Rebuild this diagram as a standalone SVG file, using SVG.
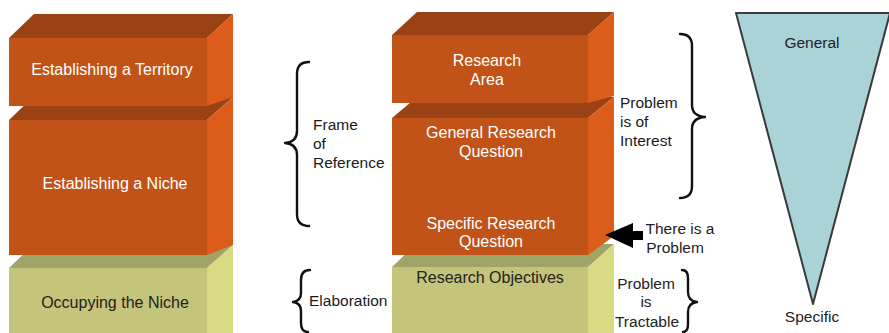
<svg xmlns="http://www.w3.org/2000/svg" width="889" height="333" viewBox="0 0 889 333">
<style>
.of{fill:#C25318}.ot{fill:#9A4214}.or{fill:#DC5C1A}
.gf{fill:#C4C47A}.gt{fill:#A0A468}.gr{fill:#D9DB83}
text{font-family:"Liberation Sans",Arial,sans-serif;font-size:15.5px}
.w{fill:#ffffff;text-anchor:middle;font-size:16px}
.d{fill:#222222;text-anchor:middle}
.b{font-size:16px}
.l{fill:#1a1a1a}
.br{fill:none;stroke:#111;stroke-width:2.4;stroke-linecap:round;stroke-linejoin:round}
</style>
<rect width="889" height="333" fill="#ffffff"/>
<g id="occupying-niche">
<polygon class="gt" points="9,268 33,245 233,245 207,268"/>
<polygon class="gr" points="207,268 233,245 233,333 207,333"/>
<rect class="gf" x="9" y="268" width="198" height="65"/>
<text class="d b" x="115" y="308">Occupying the Niche</text>
</g>
<g id="establishing-niche">
<polygon class="ot" points="9,120 33,97 233,97 207,120"/>
<polygon class="or" points="207,120 233,97 233,245 207,255"/>
<rect class="of" x="9" y="120" width="198" height="135"/>
<text class="w" x="115" y="189">Establishing a Niche</text>
</g>
<g id="establishing-territory">
<polygon class="ot" points="9,38 34,14 233,14 207,38"/>
<polygon class="or" points="207,38 233,14 233,97 207,106"/>
<rect class="of" x="9" y="38" width="198" height="68"/>
<text class="w" x="112" y="75">Establishing a Territory</text>
</g>
<g id="research-objectives">
<polygon class="gt" points="392,267 416,244 614,244 588,267"/>
<polygon class="gr" points="588,267 614,244 614,333 588,333"/>
<rect class="gf" x="392" y="267" width="196" height="66"/>
<text class="d b" x="490" y="283">Research Objectives</text>
</g>
<g id="research-question">
<polygon class="ot" points="392,118 417,97 614,97 588,118"/>
<polygon class="or" points="588,118 614,97 614,236 588,255"/>
<rect class="of" x="392" y="118" width="196" height="137"/>
<text class="w" x="491" y="138">General Research</text>
<text class="w" x="491" y="157">Question</text>
<text class="w" x="491" y="229">Specific Research</text>
<text class="w" x="491" y="247">Question</text>
</g>
<g id="research-area">
<polygon class="ot" points="392,35 417,12 614,12 588,35"/>
<polygon class="or" points="588,35 614,12 614,96 588,103"/>
<rect class="of" x="392" y="35" width="196" height="68"/>
<text class="w" x="487" y="66">Research</text>
<text class="w" x="487" y="85">Area</text>
</g>
<g id="funnel">
<polygon points="736,13 890,13 813,304" fill="#AAD3D8" stroke="#3a3a3a" stroke-width="2" stroke-linejoin="round"/>
<text class="d" x="812" y="48">General</text>
<text class="d" x="812" y="322">Specific</text>
</g>
<g id="connectors">
<path class="br" d="M309,62 Q297,62 297,74 L297,131 Q297,142 285,143 Q297,144 297,155 L297,214 Q297,226 309,226"/>
<path class="br" d="M310,270 Q301,270 301,280 L301,293 Q301,301 293,302 Q301,303 301,311 L301,323 Q301,332 308,332"/>
<path class="br" d="M680,34 Q692,34 692,46 L692,105 Q692,116 705,117 Q692,118 692,129 L692,186 Q692,198 680,198"/>
<path class="br" d="M682,270 Q688,270 688,278 L688,292 Q688,301 697,302 Q688,303 688,312 L688,324 Q688,332 683,332"/>
<polygon points="605,235 633,223 633,231 643,231 643,240 633,240 633,248" fill="#000"/>
</g>
<g id="labels">
<text class="l" x="313" y="130">Frame</text>
<text class="l" x="313" y="149">of</text>
<text class="l" x="313" y="168">Reference</text>
<text class="l" x="309" y="306">Elaboration</text>
<text class="l" x="620" y="108">Problem</text>
<text class="l" x="620" y="127">is of</text>
<text class="l" x="620" y="146">Interest</text>
<text class="d" x="680" y="234">There is a</text>
<text class="d" x="675" y="253">Problem</text>
<text class="d" x="646" y="289">Problem</text>
<text class="d" x="646" y="307">is</text>
<text class="d" x="647" y="327">Tractable</text>
</g>
</svg>
